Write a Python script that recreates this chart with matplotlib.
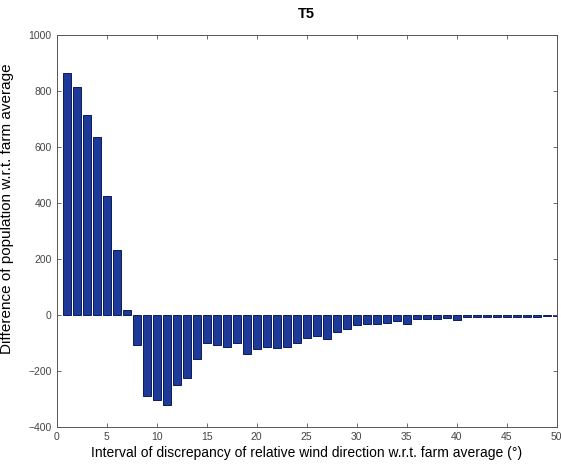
import matplotlib
matplotlib.use("Agg")
import matplotlib.pyplot as plt
import numpy as np

intervals = list(range(1, 51))
diff_population = [863, 812, 713, 633, 425, 231, 18,
                   -108, -289, -302, -322, -250, -226, -156, -101, -106, -114, -100,
                   -139, -121, -115, -119, -115, -101, -82, -75, -85, -62, -52, -35,
                   -31, -31, -29, -21, -31, -15, -15, -15, -10, -17,
                   -7, -7, -7, -7, -6, -6, -6, -6, -5, -5]
title = "T5"
xlabel = "Interval of discrepancy of relative wind direction w.r.t. farm average (°)"
ylabel = "Difference of population w.r.t. farm average"
xticks = list(range(0, 51, 5))
yticks = list(range(-400, 1001, 200))

plt.rcParams['font.family'] = ['Liberation Sans', 'DejaVu Sans']
fig = plt.figure(figsize=(5.61, 4.70), dpi=100)
ax = fig.add_axes([0.101, 0.0915, 0.891, 0.835])
ax.bar(intervals, diff_population, width=0.8, color='#1d3a98', edgecolor='#0b1a5c', linewidth=0.7)
ax.set_xlim(0, 50)
ax.set_ylim(-400, 1000)
ax.set_xticks(xticks)
ax.set_yticks(yticks)
ax.tick_params(direction='in', top=True, right=True, length=3, labelsize=7.5, labelcolor='#444444', color='#555555', width=0.6)
for s in ax.spines.values():
    s.set_linewidth(0.7)
    s.set_color('#555555')
ax.set_title(title, fontsize=10.5, fontweight='bold', pad=12)
ax.set_xlabel(xlabel, fontsize=10, labelpad=3)
ax.set_ylabel(ylabel, fontsize=11)
ax.yaxis.set_label_coords(-0.085, 0.555)
fig.savefig("out.png", dpi=100)
